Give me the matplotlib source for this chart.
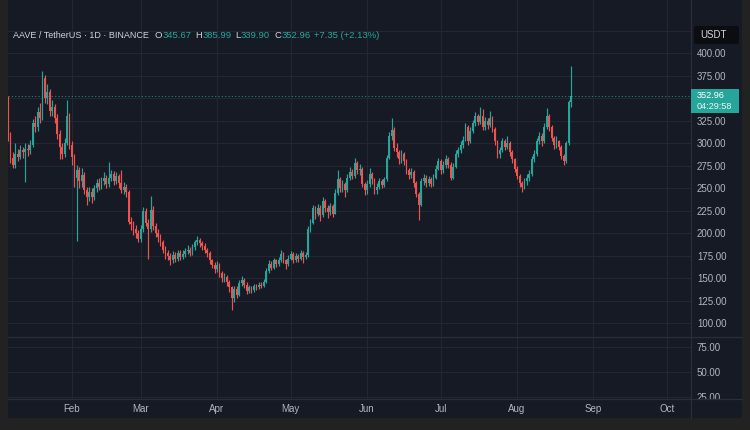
import datetime as dt
import numpy as np
import matplotlib
matplotlib.use("Agg")
import matplotlib.pyplot as plt
import matplotlib.dates as mdates
from matplotlib.patches import Rectangle, FancyBboxPatch
from matplotlib.lines import Line2D

# 图像尺寸 (px)
W, H = 750, 430

BG     = "#161a25"
FRAME  = "#222222"
GRID   = "#232734"
BORDER = "#2a2e39"
TXT    = "#b2b5be"
HEAD   = "#d1d4dc"
UP     = "#26a69a"
DOWN   = "#ef5350"

plt.rcParams["font.family"] = ["Liberation Sans", "DejaVu Sans"]

# 日线数据：2025-01-06 起，开盘价 = 前一日收盘
START = dt.date(2025, 1, 6)
FIRST_OPEN = 345.0

close_jan = [308, 284, 276, 288, 285, 292, 290, 294, 292, 298, 322, 318, 335,
             328, 372, 350, 357, 336, 340, 328, 310, 296, 288, 300, 330, 298]
close_feb = [285, 262, 270, 258, 265, 248, 240, 246, 240, 250, 256, 252, 258, 262,
             255, 262, 266, 258, 264, 256, 248, 252, 246, 213, 210, 205, 200, 194]
close_mar = [205, 225, 212, 205, 226, 208, 200, 196, 190, 182, 178, 175, 170, 176, 172, 178,
             174, 177, 180, 182, 178, 185, 190, 193, 189, 186, 181, 178, 170, 165, 160]
close_apr = [165, 156, 150, 152, 146, 140, 128, 138, 132, 145, 148, 143, 136, 140, 137,
             141, 140, 143, 142, 146, 158, 166, 162, 170, 166, 170, 177, 170, 166, 172]
close_may = [177, 170, 175, 172, 178, 174, 176, 205, 212, 228, 222, 228, 220, 236, 228, 224,
             230, 222, 245, 260, 250, 255, 248, 262, 268, 264, 278, 270, 272, 255, 248]
close_jun = [255, 266, 260, 248, 252, 258, 254, 260, 284, 308, 315, 295, 290, 282, 288,
             280, 270, 265, 268, 256, 244, 232, 258, 262, 256, 260, 255, 262, 272, 280]
close_jul = [270, 276, 283, 276, 262, 274, 288, 292, 298, 304, 318, 302, 314, 322, 330, 324,
             330, 318, 325, 320, 328, 316, 302, 288, 292, 303, 296, 300, 290, 282, 272]
close_aug = [264, 256, 252, 258, 262, 266, 282, 288, 302, 308, 302, 318, 330, 318, 306, 298,
             302, 296, 286, 280, 300, 345.67, 352.96]

high_jan = [352, 312, 290, 300, 294, 298, 296, 300, 299, 304, 327, 330, 340,
            345, 380, 376, 366, 360, 348, 344, 332, 315, 300, 306, 348, 334]
high_feb = [302, 288, 276, 274, 272, 268, 252, 252, 250, 254, 260, 262, 263, 268,
            265, 279, 270, 269, 268, 266, 270, 257, 255, 248, 218, 214, 209, 204]
high_mar = [209, 229, 228, 216, 242, 230, 212, 205, 199, 193, 186, 182, 178, 180, 179, 182,
            181, 181, 184, 187, 185, 188, 193, 197, 195, 192, 189, 184, 180, 172, 168]
high_apr = [169, 167, 158, 156, 154, 148, 142, 141, 142, 148, 153, 150, 146, 143, 142,
            144, 144, 146, 146, 149, 161, 170, 169, 173, 172, 174, 181, 179, 172, 176]
high_may = [180, 179, 178, 177, 181, 180, 179, 208, 216, 232, 230, 233, 231, 240, 238, 232,
            234, 233, 249, 270, 263, 259, 257, 266, 274, 271, 284, 280, 277, 274, 257]
high_jun = [259, 272, 268, 262, 256, 261, 260, 263, 287, 312, 328, 318, 300, 293, 292,
            290, 282, 273, 272, 270, 258, 246, 262, 266, 265, 264, 263, 266, 276, 284]
high_jul = [283, 280, 287, 285, 279, 278, 292, 296, 302, 308, 322, 320, 318, 326, 335, 333,
            340, 338, 329, 328, 336, 330, 318, 304, 296, 306, 305, 308, 302, 292, 284]
high_aug = [275, 266, 258, 262, 266, 270, 286, 292, 306, 312, 311, 322, 339, 332, 320, 308,
            308, 304, 298, 288, 303, 348, 385.99]

low_jan = [302, 278, 272, 273, 280, 282, 284, 257, 286, 288, 296, 312, 314,
           322, 326, 345, 344, 330, 330, 322, 305, 283, 282, 285, 298, 294]
low_feb = [276, 252, 192, 250, 252, 244, 232, 236, 234, 237, 246, 248, 249, 254,
           250, 252, 258, 254, 255, 250, 245, 244, 240, 210, 204, 198, 195, 190]
low_mar = [190, 202, 208, 172, 202, 204, 196, 190, 186, 178, 172, 170, 165, 167, 168, 169,
           170, 171, 174, 177, 175, 176, 182, 187, 185, 182, 178, 174, 166, 161, 156]
low_apr = [157, 152, 146, 146, 142, 135, 115, 124, 128, 130, 141, 139, 133, 134, 134,
           135, 137, 138, 139, 140, 145, 156, 159, 160, 163, 164, 168, 167, 160, 164]
low_may = [170, 167, 168, 168, 170, 167, 171, 174, 201, 210, 216, 219, 214, 218, 224, 217,
           220, 218, 221, 243, 246, 246, 240, 246, 259, 260, 262, 266, 265, 251, 243]
low_jun = [244, 252, 255, 244, 244, 249, 250, 251, 258, 282, 304, 291, 285, 277, 278,
           276, 266, 260, 262, 252, 240, 215, 230, 254, 252, 253, 251, 253, 260, 270]
low_jul = [266, 267, 273, 272, 259, 260, 272, 285, 289, 295, 302, 298, 300, 311, 319, 320,
           321, 315, 315, 316, 318, 312, 298, 284, 284, 290, 292, 294, 286, 278, 268]
low_aug = [260, 252, 246, 249, 254, 258, 264, 279, 286, 299, 297, 300, 316, 314, 302, 294,
           295, 292, 282, 276, 278, 298, 339.90]

closes = np.array(close_jan + close_feb + close_mar + close_apr + close_may
                  + close_jun + close_jul + close_aug, dtype=float)
highs = np.array(high_jan + high_feb + high_mar + high_apr + high_may
                 + high_jun + high_jul + high_aug, dtype=float)
lows = np.array(low_jan + low_feb + low_mar + low_apr + low_may
                + low_jun + low_jul + low_aug, dtype=float)
opens = np.r_[FIRST_OPEN, closes[:-1]]
dates = [START + dt.timedelta(days=i) for i in range(len(closes))]

MONTHS = [dt.date(2025, m, 1) for m in range(2, 11)]
MAIN_TICKS = list(range(100, 450, 25))
HIDDEN_TICKS = [350, 425]   # 被价格标签 / USDT 框挡住
LOW_TICKS = [25, 50, 75]

HEADER = "AAVE / TetherUS · 1D · BINANCE"
OHLC_TXT = [("O", "345.67"), ("H", "385.99"), ("L", "339.90"), ("C", "352.96")]
CHANGE = "+7.35 (+2.13%)"
COUNTDOWN = "04:29:58"


def px(x):
    return x / W


def py(y):
    return 1 - y / H


fig = plt.figure(figsize=(W / 100, H / 100), dpi=100, facecolor=FRAME)
renderer = fig.canvas.get_renderer()

# 图表底色
fig.add_artist(Rectangle((px(8), py(418)), (742 - 8) / W, 418 / H,
                         facecolor=BG, edgecolor="none", zorder=-5))

ax = fig.add_axes([px(8), py(337), (690.7 - 8) / W, 337 / H])
ax_low = fig.add_axes([px(8), py(398.5), (690.7 - 8) / W, 61.5 / H], sharex=ax)

x = mdates.date2num(dates)
up = closes >= opens
colors = np.where(up, UP, DOWN)

ax.vlines(x, lows, highs, colors=colors, linewidth=0.85, zorder=2)
ax.bar(x, np.maximum(np.abs(closes - opens), 0.6), bottom=np.minimum(opens, closes),
       width=0.72, color=colors, linewidth=0, zorder=3)

x0 = mdates.date2num(START)
ax.set_xlim(x0, x0 + 277.6)
ax.set_ylim(84.8, 459.2)
ax_low.set_ylim(23.2, 84.7)

last = closes[-1]
ax.axhline(last, color=UP, linewidth=0.8, linestyle=(0, (1, 2)), alpha=0.75, zorder=1)

for a in (ax, ax_low):
    a.set_facecolor(BG)
    for s in a.spines.values():
        s.set_visible(False)
    a.set_xticks(mdates.date2num(MONTHS))
    a.grid(True, color=GRID, linewidth=0.8, zorder=0)
    a.set_axisbelow(True)
    a.yaxis.tick_right()
    a.tick_params(axis="y", length=0, pad=4.5, labelsize=7, labelcolor=TXT)
    a.tick_params(axis="x", length=0)

ax.set_yticks(MAIN_TICKS)
ax.set_yticklabels(["" if v in HIDDEN_TICKS else f"{v:.2f}" for v in MAIN_TICKS])
ax.tick_params(axis="x", labelbottom=False)

ax_low.set_yticks(LOW_TICKS)
ax_low.set_yticklabels([f"{v:.2f}" for v in LOW_TICKS])
ax_low.xaxis.set_major_formatter(mdates.DateFormatter("%b"))
ax_low.tick_params(axis="x", labelsize=7, labelcolor=TXT, pad=4)

# 时间轴右下角遮挡
fig.add_artist(Rectangle((px(690.7), py(418)), (742 - 690.7) / W, 19.5 / H,
                         facecolor=BG, edgecolor="none", zorder=1))

# 分隔线
for (xa, ya, xb, yb) in [(8, 337, 742, 337), (8, 398.5, 742, 398.5), (690.7, 0, 690.7, 418)]:
    fig.add_artist(Line2D([px(xa), px(xb)], [py(ya), py(yb)], color=BORDER,
                          linewidth=0.9, zorder=2))

# 当前价格标签
disp_y = ax.transData.transform((x0, last))[1]
fy = disp_y / H
fig.add_artist(Rectangle((px(690.7), fy - 17.2 / H), (739 - 690.7) / W, 23.5 / H,
                         facecolor=UP, edgecolor="none", zorder=3))
fig.text(px(697), fy, f"{last:.2f}", color="white", fontsize=6.6, va="center", zorder=4)
fig.text(px(697), fy - 11.0 / H, COUNTDOWN, color="#e8f5f3", fontsize=6.6,
         va="center", zorder=4)

# USDT
fig.add_artist(FancyBboxPatch((px(694), py(44)), (739 - 694) / W, 18 / H,
                              boxstyle="round,pad=0,rounding_size=0.004",
                              facecolor="#0c0d10", edgecolor="none", zorder=3))
fig.text(px(700), py(35), "USDT", color=HEAD, fontsize=7, va="center", zorder=4)

# 标题行：逐段排布
yh = py(35)
pieces = [(HEADER, HEAD, 6.5, 5.5)]
for k, v in OHLC_TXT:
    pieces.append((k, HEAD, 6.8, 0.3))
    pieces.append((v, UP, 6.8, 4.0))
pieces.append((CHANGE, UP, 6.8, 0))
cur = 13.0
for s, col, fs, gap in pieces:
    t = fig.text(px(cur), yh, s, color=col, fontsize=fs, va="center")
    cur += t.get_window_extent(renderer).width + gap

fig.savefig("out.png", dpi=100, facecolor=FRAME)
